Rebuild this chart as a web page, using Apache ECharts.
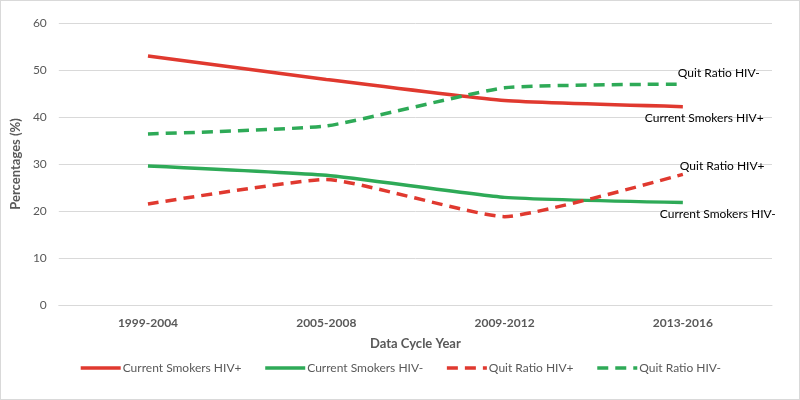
<!DOCTYPE html>
<html>
<head>
  <meta charset="utf-8">
  <title>Smokers and quit ratio</title>
  <script src="https://cdn.jsdelivr.net/npm/echarts@6/dist/echarts.min.js"></script>
  <style>
    html, body { margin: 0; padding: 0; background: #fff; }
    #main { width: 798px; height: 398px; border: 1px solid #d9d9d9; }
  </style>
</head>
<body>
<div id="main"></div>
<script type="text/javascript">
// data
var cycles = ['1999-2004', '2005-2008', '2009-2012', '2013-2016'];
var smokersPos = [53.0, 48.0, 43.5, 42.2];
var smokersNeg = [29.6, 27.6, 22.9, 21.8];
var quitPos = [21.5, 26.7, 18.8, 27.8];
var quitNeg = [36.4, 38.1, 46.2, 47.0];

var RED = '#e0392f';
var GREEN = '#2eaa57';
var FONT = 'Lato, "Liberation Sans", sans-serif';

function mkSeries(name, data, color, dashed, offset) {
  return {
    name: name,
    type: 'line',
    data: data,
    smooth: 0.15,
    showSymbol: false,
    symbol: 'none',
    lineStyle: { color: color, width: 3.5, type: dashed ? [11, 7] : 'solid' },
    itemStyle: { color: color },
    endLabel: {
      show: true,
      formatter: function () { return name; },
      distance: 0,
      offset: offset,
      color: '#000',
      fontSize: 12,
      fontFamily: FONT
    }
  };
}

var myChart = echarts.init(document.getElementById('main'));
var option = {
  animation: false,
  textStyle: { fontFamily: FONT },
  grid: { left: 55, right: 27, top: 22, bottom: 94 },
  legend: {
    bottom: 20,
    itemWidth: 40,
    itemHeight: 14,
    itemGap: 22,
    itemStyle: { opacity: 0 },
    lineStyle: { width: 3.5 },
    textStyle: { color: '#595959', fontSize: 12, fontFamily: FONT, padding: [0, 0, 0, -3] },
    data: ['Current Smokers HIV+', 'Current Smokers HIV-', 'Quit Ratio HIV+', 'Quit Ratio HIV-']
  },
  xAxis: {
    type: 'category',
    data: cycles,
    boundaryGap: true,
    axisLine: { lineStyle: { color: '#d9d9d9' } },
    axisTick: { show: false },
    axisLabel: { color: '#595959', fontWeight: 'bold', fontSize: 12, margin: 12 },
    name: 'Data Cycle Year',
    nameLocation: 'middle',
    nameGap: 32,
    nameTextStyle: { color: '#595959', fontWeight: 'bold', fontSize: 13 }
  },
  yAxis: {
    type: 'value',
    min: 0,
    max: 60,
    interval: 10,
    axisLine: { show: false },
    axisTick: { show: false },
    splitLine: { lineStyle: { color: '#d9d9d9' } },
    axisLabel: { color: '#595959', fontSize: 12, margin: 12 },
    name: 'Percentages (%)',
    nameLocation: 'middle',
    nameGap: 33,
    nameTextStyle: { color: '#595959', fontWeight: 'bold', fontSize: 13 }
  },
  series: [
    mkSeries('Current Smokers HIV+', smokersPos, RED, false, [-38, 11]),
    mkSeries('Current Smokers HIV-', smokersNeg, GREEN, false, [-23, 12]),
    mkSeries('Quit Ratio HIV+', quitPos, RED, true, [-3, -8]),
    mkSeries('Quit Ratio HIV-', quitNeg, GREEN, true, [-5, -11])
  ]
};
myChart.setOption(option);
</script>
</body>
</html>
